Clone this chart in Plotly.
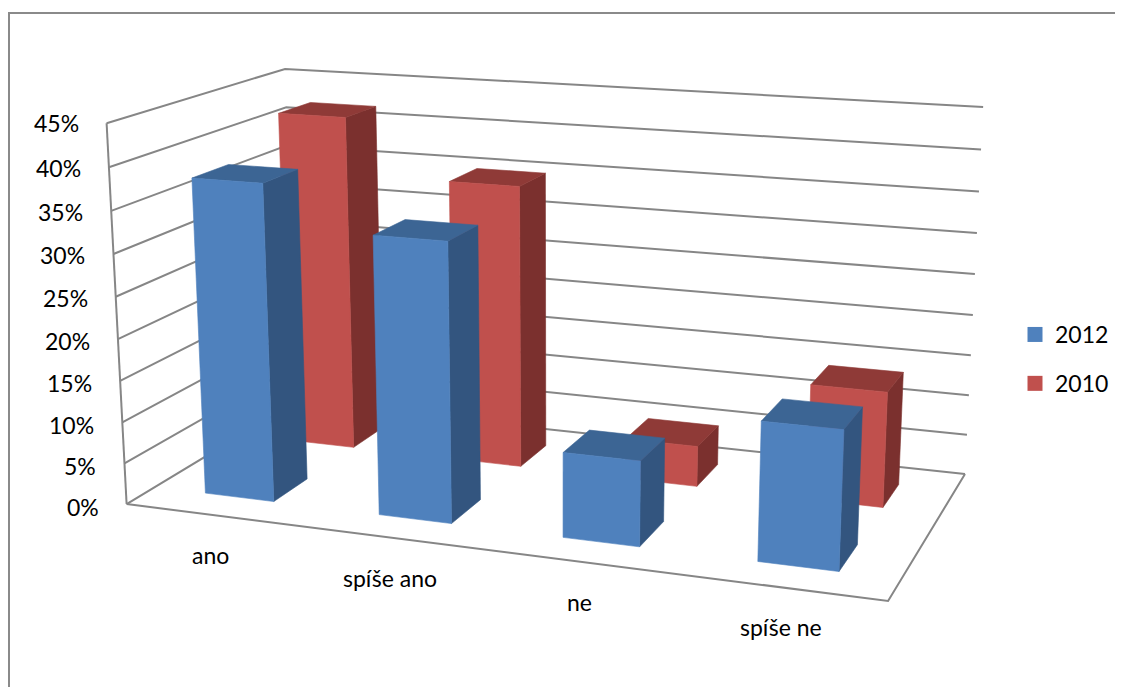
import numpy as np
import plotly.graph_objects as go

# ---------------- data ----------------
categories = ["ano", "spíše ano", "ne", "spíše ne"]
series_names = ["2012", "2010"]
values_2012 = [38, 33, 10, 16]
values_2010 = [42, 35, 5, 14]
tick_values = [0, 5, 10, 15, 20, 25, 30, 35, 40, 45]
tick_labels = ["0%", "5%", "10%", "15%", "20%", "25%", "30%", "35%", "40%", "45%"]

W, H = 1123, 695
OFF = 8          # default page margin of the html body
FONT = "Lato"
FS = 23

# ---------------- 3D view calibration (perspective like the Excel chart) ----------------
ncat = len(categories)
depth = len(series_names)
zmax = tick_values[-1]
calib_world = [(0, 0, 0), (0, 0, zmax), (0, depth, zmax), (ncat, depth, zmax),
               (ncat, depth, 0), (ncat, 0, 0), (ncat, depth, 25), (0, 0, 25), (ncat, depth, 5)]
calib_px = [(126, 504), (106, 123), (285, 69), (983, 107),
            (965, 473), (888, 601), (975, 274), (117, 297), (967, 436)]

rows = []
for (X, Y, Z), (u, v) in zip(calib_world, calib_px):
    Z = Z / 10.0
    u = u / 1000.0
    v = v / 1000.0
    rows.append([X, Y, Z, 1, 0, 0, 0, 0, -u * X, -u * Y, -u * Z, -u])
    rows.append([0, 0, 0, 0, X, Y, Z, 1, -v * X, -v * Y, -v * Z, -v])
_, _, Vt = np.linalg.svd(np.array(rows, dtype=float))
P = Vt[-1].reshape(3, 4)


def proj(x, y, z):
    h = P @ np.array([x, y, z / 10.0, 1.0])
    return h[0] / h[2] * 1000.0, h[1] / h[2] * 1000.0


fig = go.Figure()

# ---------------- walls & gridlines ----------------
GRID = "#868686"
gx, gy = [], []
for t in tick_values:
    a = proj(0, 0, t)
    b = proj(0, depth, t)
    c = proj(ncat, depth, t)
    gx += [a[0], b[0], c[0], None]
    gy += [a[1], b[1], c[1], None]
# left wall front vertical edge
a, b = proj(0, 0, 0), proj(0, 0, zmax)
gx += [a[0], b[0], None]
gy += [a[1], b[1], None]
# floor front and right edges
f = [proj(0, 0, 0), proj(ncat, 0, 0), proj(ncat, depth, 0)]
gx += [p[0] for p in f] + [None]
gy += [p[1] for p in f] + [None]
fig.add_trace(go.Scatter(x=gx, y=gy, mode="lines", line=dict(color=GRID, width=2),
                         hoverinfo="skip", showlegend=False))

# ---------------- bars ----------------
colors = {
    "2012": dict(front="#4F81BD", side="#33557F", top="#3C6594"),
    "2010": dict(front="#C0504D", side="#7B302E", top="#8F3A37"),
}
series_values = {"2012": values_2012, "2010": values_2010}
bw = 0.4   # bar width (gap width 150 %)
bd = 0.4   # bar depth (gap depth 150 %)


def face(pts, color, name, val):
    xs = [p[0] for p in pts] + [pts[0][0]]
    ys = [p[1] for p in pts] + [pts[0][1]]
    fig.add_trace(go.Scatter(x=xs, y=ys, mode="lines", fill="toself", fillcolor=color,
                             line=dict(color=color, width=0.6), showlegend=False,
                             hoveron="fills", hoverinfo="text", text=f"{name}: {val}%"))


# back row (2010) first, then front row (2012); left to right
for si in [1, 0]:
    name = series_names[si]
    yc = si + 0.5
    y0, y1 = yc - bd / 2, yc + bd / 2
    for ci, cat in enumerate(categories):
        v = series_values[name][ci]
        xc = ci + 0.5
        x0, x1 = xc - bw / 2, xc + bw / 2
        col = colors[name]
        face([proj(x1, y0, 0), proj(x1, y1, 0), proj(x1, y1, v), proj(x1, y0, v)], col["side"], f"{name} {cat}", v)
        face([proj(x0, y0, v), proj(x1, y0, v), proj(x1, y1, v), proj(x0, y1, v)], col["top"], f"{name} {cat}", v)
        face([proj(x0, y0, 0), proj(x1, y0, 0), proj(x1, y0, v), proj(x0, y0, v)], col["front"], f"{name} {cat}", v)

# ---------------- legend ----------------
for i, name in enumerate(series_names):
    fig.add_trace(go.Scatter(x=[None], y=[None], mode="markers", name=name,
                             marker=dict(symbol="square", size=15, color=colors[name]["front"]),
                             legendgroup=name))

# ---------------- tick labels ----------------
annotations = []
for t, lab in zip(tick_values, tick_labels):
    px, py = proj(0, 0, t)
    annotations.append(dict(x=px - 26, y=py + 3 * (1 - t / zmax), text=lab, showarrow=False,
                            xanchor="right", yanchor="middle", xref="x", yref="y",
                            font=dict(family=FONT, size=FS, color="#000000")))
for ci, cat in enumerate(categories):
    px, py = proj(ci + 0.49, 0, 0)
    annotations.append(dict(x=px, y=py + 40, text=cat, showarrow=False,
                            xanchor="center", yanchor="middle", xref="x", yref="y",
                            font=dict(family=FONT, size=FS, color="#000000")))

FW, FH = W - 2 * OFF, H - 2 * OFF
fig.update_layout(
    width=FW, height=FH,
    margin=dict(l=0, r=0, t=0, b=0),
    paper_bgcolor="white", plot_bgcolor="white",
    xaxis=dict(range=[OFF, OFF + FW], visible=False, fixedrange=True),
    yaxis=dict(range=[OFF + FH, OFF], visible=False, fixedrange=True),
    annotations=annotations,
    showlegend=True,
    legend=dict(x=(1015 - OFF) / FW, y=1 - (313 - OFF) / FH, xanchor="left", yanchor="top",
                font=dict(family=FONT, size=FS, color="#000000"),
                traceorder="grouped", tracegroupgap=16, bgcolor="rgba(0,0,0,0)"),
    shapes=[dict(type="path", xref="x", yref="y",
                 path=f"M 9 {H + 5} L 9 13 L {W + 5} 13",
                 line=dict(color="#8A8A8A", width=2))],
)

fig.write_html("out.html")
